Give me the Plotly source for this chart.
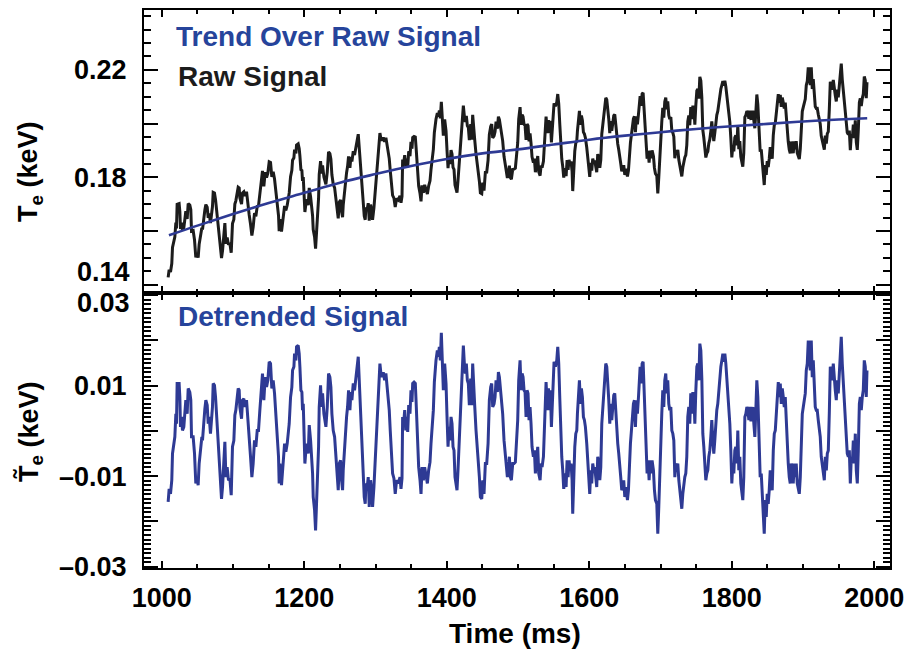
import numpy as np
import plotly.graph_objects as go

# ---------------- data ----------------
# sampling times of the fluctuating signal (ms)
time_ms = [
    1008.9, 1010.3, 1012.2, 1014.0, 1015.0, 1016.9, 1018.3, 1019.7, 1020.6, 1021.5,
    1024.3, 1025.3, 1026.2, 1027.6, 1029.0, 1030.9, 1032.3, 1033.7, 1035.6, 1037.0,
    1039.3, 1040.7, 1041.7, 1044.0, 1045.9, 1047.7, 1049.6, 1051.0, 1052.4, 1054.3,
    1056.2, 1057.1, 1059.0, 1060.4, 1061.8, 1063.7, 1065.1, 1066.5, 1068.3, 1069.7,
    1071.1, 1072.1, 1073.9, 1075.4, 1076.8, 1078.6, 1080.5, 1082.4, 1083.8, 1085.2,
    1087.1, 1088.5, 1089.9, 1091.7, 1093.6, 1095.5, 1097.4, 1099.2, 1101.1, 1102.5,
    1103.9, 1105.8, 1107.2, 1108.6, 1109.5, 1111.9, 1113.3, 1115.1, 1117.0, 1118.9,
    1120.8, 1122.6, 1124.5, 1126.4, 1128.2, 1130.1, 1132.0, 1133.9, 1135.7, 1137.6,
    1139.5, 1141.3, 1143.2, 1145.1, 1147.0, 1148.8, 1150.7, 1152.6, 1154.4, 1156.3,
    1158.2, 1160.1, 1161.9, 1163.8, 1164.7,
    1165.7, 1168.0, 1170.4, 1172.3, 1174.1, 1176.0, 1178.8, 1180.7, 1182.5, 1183.5,
    1185.4, 1186.3, 1188.2, 1189.1, 1191.4, 1192.8, 1193.8, 1195.2, 1196.6, 1197.5,
    1198.5, 1199.4, 1200.8, 1202.2, 1204.1, 1205.5, 1206.9, 1208.8, 1210.2, 1211.6,
    1212.5, 1214.4, 1215.8, 1217.2, 1218.6, 1220.0, 1220.9, 1222.8, 1224.2, 1225.6,
    1227.5, 1228.9, 1230.3, 1232.2, 1234.0, 1235.9, 1237.3, 1238.7, 1240.6, 1242.5,
    1244.3, 1246.2, 1247.6, 1249.0, 1250.9, 1252.3, 1253.7, 1254.6, 1256.0, 1257.4,
    1259.3, 1260.7, 1262.1, 1264.0, 1265.4, 1266.8, 1268.7, 1270.5, 1272.4, 1274.3,
    1275.7, 1277.1, 1278.0, 1279.4, 1280.8, 1281.8, 1282.7, 1284.1, 1285.5, 1286.4,
    1288.3, 1289.7, 1291.1, 1293.0, 1294.4, 1295.8, 1297.7, 1299.5, 1301.4, 1303.3,
    1304.7, 1306.1, 1307.5, 1308.9, 1310.8, 1312.7, 1314.5, 1316.4, 1317.8, 1319.2,
    1320.6, 1322.0, 1323.9, 1325.8, 1327.6, 1329.5, 1331.8,
    1334.3, 1335.7, 1337.1, 1338.0, 1339.4, 1340.9, 1342.3, 1343.7, 1345.1, 1346.5,
    1348.3, 1349.7, 1351.1, 1352.1, 1354.0, 1355.8, 1356.8, 1357.7, 1359.1, 1360.5,
    1362.4, 1363.8, 1365.2, 1367.1, 1368.9, 1370.8, 1372.7, 1374.5, 1376.4, 1377.8,
    1379.2, 1381.1, 1382.5, 1383.9, 1384.8, 1386.7, 1388.1, 1389.5, 1390.9, 1392.3,
    1393.3, 1394.2, 1395.1, 1397.0, 1398.9, 1400.3, 1401.7, 1403.1, 1404.5, 1405.9,
    1407.3, 1408.7, 1410.1, 1411.5, 1412.9, 1414.3, 1415.7, 1417.1, 1418.5, 1419.9,
    1421.3, 1423.2, 1424.6, 1426.0, 1427.4, 1428.8, 1430.2, 1431.6, 1433.5, 1434.9,
    1436.3, 1437.7, 1439.1, 1441.0, 1442.9, 1444.3, 1445.7, 1447.1, 1449.0, 1450.4,
    1452.2, 1454.1, 1456.0, 1457.9, 1458.8, 1459.7, 1461.6, 1463.0, 1464.4, 1466.3,
    1467.7, 1469.1, 1471.0, 1472.4, 1473.8, 1475.2, 1476.6, 1478.4, 1480.3, 1482.2,
    1483.6, 1485.0, 1486.4, 1487.8, 1489.2, 1490.6, 1492.5, 1494.4, 1496.2, 1498.1,
    1499.5, 1500.9, 1502.8,
    1504.2, 1505.6, 1507.0, 1508.4, 1509.8, 1511.2, 1512.6, 1514.0, 1515.4, 1516.8,
    1518.2, 1519.6, 1521.5, 1522.9, 1524.3, 1526.2, 1527.6, 1529.0, 1530.9, 1532.3,
    1533.7, 1535.6, 1537.0, 1538.4, 1539.3, 1541.2, 1542.6, 1544.0, 1545.4, 1546.8,
    1547.7, 1549.1, 1550.5, 1552.4, 1554.3, 1555.7, 1557.1, 1558.5, 1559.9, 1561.3,
    1562.7, 1564.1, 1566.0, 1567.4, 1568.8, 1570.2, 1571.6, 1573.0, 1574.4, 1575.8,
    1576.7, 1578.1, 1579.6, 1581.0, 1582.4, 1583.3, 1584.7, 1586.1, 1587.5, 1588.9,
    1590.3, 1591.7, 1593.1, 1594.5, 1596.4, 1597.8, 1599.2, 1600.6, 1602.0, 1603.4,
    1604.8, 1606.2, 1607.6, 1609.0, 1610.4, 1611.8, 1613.2, 1614.7, 1616.1, 1617.5,
    1618.9, 1620.3, 1621.7, 1623.1, 1624.5, 1625.9, 1627.3, 1628.7, 1630.1, 1631.5,
    1632.9, 1634.3, 1635.7, 1637.1, 1638.5, 1639.9, 1641.3, 1642.7, 1644.1, 1645.5,
    1646.9, 1648.3, 1649.8, 1651.6, 1653.5, 1654.9, 1656.3, 1657.7, 1659.1, 1660.5,
    1661.9, 1663.3, 1664.7, 1666.1, 1667.5, 1669.0, 1670.3,
    1671.3, 1672.7, 1674.1, 1675.5, 1676.9, 1678.3, 1679.7, 1681.1, 1682.5, 1683.9,
    1685.3, 1686.7, 1688.1, 1690.0, 1691.4, 1692.8, 1694.7, 1696.1, 1697.5, 1698.9,
    1700.3, 1701.7, 1703.1, 1704.5, 1705.9, 1707.3, 1708.7, 1710.1, 1711.5, 1712.9,
    1714.4, 1715.8, 1717.2, 1718.6, 1720.0, 1721.4, 1722.8, 1724.2, 1725.6, 1727.0,
    1728.4, 1729.8, 1731.2, 1732.6, 1734.0, 1735.4, 1736.8, 1738.2, 1739.6, 1741.0,
    1742.4, 1743.8, 1745.2, 1746.7, 1748.1, 1749.5, 1750.9, 1752.3, 1753.7, 1755.1,
    1756.5, 1757.9, 1759.3, 1760.7, 1762.1, 1763.5, 1764.9, 1766.3, 1767.7, 1769.1,
    1770.5, 1771.9, 1773.3, 1774.7, 1776.1, 1777.5, 1778.9, 1780.3, 1781.7, 1783.2,
    1784.6, 1786.0, 1787.4, 1788.8, 1790.2, 1791.6, 1793.0, 1794.4, 1795.8, 1797.2,
    1798.6, 1800.0, 1801.4, 1802.8, 1804.2, 1805.6, 1807.0, 1808.4, 1809.8, 1811.2,
    1812.6, 1814.0, 1815.4, 1816.8, 1818.3, 1819.7, 1821.1, 1822.5, 1823.9, 1825.3,
    1826.7, 1828.1, 1829.5, 1830.9, 1832.3, 1833.7, 1835.1, 1836.5, 1837.9, 1839.8,
    1841.3, 1842.7, 1844.1, 1845.5, 1846.9, 1848.3, 1849.7, 1851.1, 1852.5, 1853.9,
    1855.3, 1856.7, 1858.2, 1859.6, 1861.0, 1862.4, 1863.8, 1865.2, 1866.6, 1868.0,
    1869.4, 1870.8, 1872.2, 1873.6, 1875.0, 1876.4, 1877.8, 1879.2, 1880.6, 1882.0,
    1883.4, 1884.8, 1886.2, 1887.6, 1889.0, 1890.4, 1891.8, 1893.3, 1894.7, 1896.1,
    1897.5, 1898.9, 1900.3, 1901.7, 1903.1, 1904.5, 1905.9, 1907.3, 1908.7, 1910.1,
    1911.5, 1912.9, 1914.3, 1915.7, 1917.1, 1918.5, 1919.9, 1921.3, 1922.7, 1924.1,
    1925.5, 1926.9, 1928.4, 1929.8, 1931.2, 1932.6, 1934.0, 1935.4, 1936.8, 1938.2,
    1939.6, 1941.0, 1942.4, 1943.8, 1945.2, 1946.6, 1948.0, 1949.4, 1950.8, 1952.2,
    1953.6, 1955.0, 1956.4, 1957.8, 1959.2, 1960.6, 1962.0, 1963.5, 1964.9, 1966.3,
    1967.7, 1969.1, 1970.5, 1971.9, 1973.3, 1974.7, 1976.1, 1977.5, 1979.0, 1980.3,
    1981.7, 1983.1, 1984.5, 1985.9, 1987.3, 1988.7, 1989.7,
]

# detrended electron temperature fluctuation (keV)
te_detrended = [
    -0.0157, -0.0128, -0.0139, -0.0109, -0.0050, -0.0021, -0.0013, 0.0038, 0.0016, 0.0105,
    0.0105, 0.0075, 0.0009, 0.0031, 0.0001, 0.0009, 0.0053, 0.0068, 0.0038, 0.0094,
    0.0086, 0.0068, -0.0013, -0.0013, -0.0050, -0.0116, -0.0102, -0.0120, -0.0072, -0.0043,
    -0.0013, -0.0021, 0.0038, 0.0049, 0.0068, 0.0057, 0.0016, 0.0031, -0.0006, 0.0016,
    0.0053, 0.0105, 0.0101, 0.0075, 0.0035, -0.0013, -0.0057, -0.0113, -0.0150, -0.0124,
    -0.0072, -0.0024, -0.0102, -0.0080, -0.0109, -0.0105, -0.0142, -0.0035, -0.0021, 0.0035,
    0.0046, 0.0079, 0.0094, 0.0090, 0.0053, 0.0027, 0.0068, 0.0071, 0.0053, 0.0068,
    0.0016, -0.0021, -0.0057, -0.0102, -0.0072, -0.0021, -0.0035, 0.0001, 0.0001, 0.0046,
    0.0083, 0.0127, 0.0068, 0.0119, 0.0097, 0.0112, 0.0153, 0.0149, 0.0094, 0.0112,
    0.0083, 0.0031, -0.0028, -0.0057, -0.0116,
    -0.0072, -0.0120, -0.0057, -0.0028, -0.0046, -0.0028, 0.0016, 0.0075, 0.0097, 0.0134,
    0.0142, 0.0171, 0.0156, 0.0186, 0.0189, 0.0171, 0.0142, 0.0090, 0.0086, 0.0046,
    0.0060, 0.0001, -0.0072, -0.0043, -0.0028, -0.0050, 0.0013, -0.0021, -0.0050, -0.0094,
    -0.0146, -0.0175, -0.0220, -0.0161, -0.0124, -0.0035, 0.0053, 0.0101, 0.0053, 0.0083,
    0.0038, 0.0024, 0.0009, 0.0053, 0.0127, 0.0119, 0.0097, 0.0038, 0.0001, -0.0013,
    -0.0057, -0.0087, -0.0131, -0.0072, -0.0065, -0.0109, -0.0131, -0.0087, -0.0043, -0.0006,
    0.0031, 0.0053, 0.0090, 0.0046, 0.0086, 0.0068, 0.0105, 0.0090, 0.0119, 0.0134,
    0.0164, 0.0112, 0.0075, 0.0031, -0.0006, -0.0057, -0.0102, -0.0146, -0.0161, -0.0116,
    -0.0124, -0.0102, -0.0168, -0.0109, -0.0131, -0.0168, -0.0124, -0.0072, -0.0006, 0.0038,
    0.0097, 0.0149, 0.0127, 0.0119, 0.0130, 0.0112, 0.0127, 0.0094, 0.0083, 0.0046,
    0.0001, -0.0057, -0.0094, -0.0105, -0.0139, -0.0109, -0.0116,
    -0.0102, -0.0128, -0.0105, 0.0031, 0.0016, 0.0046, 0.0001, 0.0031, -0.0002, 0.0057,
    0.0038, 0.0090, 0.0064, 0.0105, 0.0108, 0.0105, 0.0068, 0.0031, -0.0028, -0.0080,
    -0.0109, -0.0139, -0.0080, -0.0109, -0.0080, -0.0102, -0.0116, -0.0087, -0.0069, -0.0028,
    0.0001, 0.0046, 0.0108, 0.0142, 0.0156, 0.0178, 0.0164, 0.0186, 0.0156, 0.0217,
    0.0156, 0.0142, 0.0090, 0.0149, 0.0105, 0.0031, -0.0035, 0.0009, -0.0021, 0.0031,
    0.0016, -0.0035, -0.0043, -0.0102, -0.0116, -0.0131, -0.0087, -0.0035, 0.0024, 0.0075,
    0.0094, 0.0189, 0.0149, 0.0127, 0.0149, 0.0112, 0.0105, 0.0057, 0.0116, 0.0057,
    0.0149, 0.0083, 0.0057, 0.0001, -0.0035, -0.0080, -0.0102, -0.0146, -0.0150, -0.0109,
    -0.0139, -0.0072, -0.0072, -0.0028, 0.0031, 0.0068, 0.0097, 0.0105, 0.0053, 0.0060,
    0.0075, 0.0112, 0.0086, 0.0130, 0.0119, 0.0097, 0.0068, 0.0038, -0.0021, -0.0057,
    -0.0072, -0.0102, -0.0087, -0.0057, -0.0102, -0.0109, -0.0072, -0.0072, -0.0069, -0.0021,
    0.0024, 0.0112, 0.0156,
    0.0090, 0.0127, 0.0119, 0.0090, 0.0086, 0.0031, 0.0090, 0.0083, 0.0024, 0.0053,
    0.0016, -0.0035, -0.0057, -0.0043, -0.0094, -0.0065, -0.0035, -0.0094, -0.0109, -0.0072,
    -0.0080, -0.0057, 0.0001, 0.0053, 0.0108, 0.0046, 0.0094, 0.0046, 0.0090, 0.0009,
    0.0053, 0.0094, 0.0153, 0.0142, 0.0156, 0.0186, 0.0149, 0.0075, -0.0028, -0.0057,
    -0.0087, -0.0128, -0.0094, -0.0124, -0.0065, -0.0102, -0.0065, -0.0087, -0.0072, -0.0109,
    -0.0183, -0.0087, -0.0035, -0.0006, 0.0001, 0.0038, 0.0075, 0.0112, 0.0060, 0.0094,
    0.0075, 0.0031, 0.0024, 0.0009, -0.0028, -0.0072, -0.0116, -0.0139, -0.0087, -0.0116,
    -0.0072, -0.0087, -0.0080, -0.0102, -0.0124, -0.0057, -0.0072, -0.0109, -0.0080, 0.0016,
    0.0046, 0.0075, 0.0119, 0.0149, 0.0142, 0.0112, 0.0068, 0.0016, 0.0060, 0.0024,
    0.0060, 0.0079, 0.0083, 0.0038, -0.0013, -0.0028, -0.0050, -0.0087, -0.0102, -0.0131,
    -0.0124, -0.0109, -0.0146, -0.0124, -0.0153, -0.0131, -0.0072, -0.0028, 0.0001, 0.0038,
    0.0060, 0.0068, 0.0009, 0.0068, 0.0038, 0.0075, 0.0127,
    0.0142, 0.0105, 0.0149, 0.0153, 0.0083, 0.0009, -0.0057, -0.0094, -0.0065, -0.0109,
    -0.0065, -0.0094, -0.0065, -0.0087, -0.0131, -0.0153, -0.0161, -0.0227, -0.0168, -0.0087,
    -0.0013, 0.0038, 0.0090, 0.0053, 0.0112, 0.0127, 0.0083, 0.0112, 0.0060, 0.0046,
    0.0053, 0.0001, -0.0006, -0.0021, -0.0102, -0.0072, -0.0087, -0.0072, -0.0109, -0.0131,
    -0.0153, -0.0172, -0.0139, -0.0116, -0.0102, -0.0094, -0.0057, 0.0031, 0.0053, 0.0016,
    0.0083, 0.0038, 0.0083, 0.0083, 0.0016, 0.0090, 0.0142, 0.0149, 0.0112, 0.0193,
    0.0178, 0.0116, -0.0006, -0.0035, -0.0080, -0.0109, -0.0094, -0.0087, -0.0057, -0.0043,
    -0.0013, 0.0024, -0.0021, -0.0050, -0.0021, 0.0016, 0.0046, 0.0060, 0.0090, 0.0112,
    0.0142, 0.0156, 0.0171, 0.0153, 0.0171, 0.0149, 0.0119, 0.0083, 0.0068, 0.0016,
    -0.0043, -0.0116, -0.0072, -0.0094, -0.0043, -0.0035, -0.0072, 0.0001, -0.0087, -0.0057,
    -0.0116, -0.0131, -0.0153, -0.0102, 0.0031, 0.0038, 0.0053, 0.0046, 0.0024, 0.0053,
    0.0024, 0.0024, 0.0053, 0.0016, -0.0013, 0.0046, 0.0112, 0.0075, -0.0021, -0.0102,
    -0.0094, -0.0139, -0.0205, -0.0227, -0.0153, -0.0190, -0.0139, -0.0161, -0.0131, -0.0087,
    -0.0116, -0.0131, -0.0043, -0.0006, 0.0001, 0.0046, 0.0075, 0.0108, 0.0075, 0.0105,
    0.0060, 0.0094, 0.0075, 0.0053, 0.0075, 0.0016, -0.0021, -0.0072, -0.0102, -0.0116,
    -0.0072, -0.0087, -0.0116, -0.0072, -0.0102, -0.0072, -0.0116, -0.0131, -0.0139, -0.0102,
    -0.0035, 0.0038, 0.0053, 0.0075, 0.0083, 0.0134, 0.0149, 0.0200, 0.0164, 0.0134,
    0.0200, 0.0119, 0.0156, 0.0090, 0.0053, 0.0046, 0.0046, 0.0024, 0.0001, -0.0013,
    -0.0057, -0.0072, -0.0087, -0.0109, -0.0057, -0.0087, -0.0050, -0.0043, 0.0038, 0.0142,
    0.0134, 0.0112, 0.0149, 0.0105, 0.0090, 0.0068, 0.0112, 0.0083, 0.0134, 0.0164,
    0.0208, 0.0149, 0.0112, 0.0075, 0.0038, -0.0021, -0.0050, -0.0057, -0.0043, -0.0116,
    -0.0057, -0.0072, -0.0021, -0.0072, -0.0006, -0.0087, -0.0116, -0.0043, 0.0060, 0.0075,
    0.0046, 0.0075, 0.0090, 0.0156, 0.0142, 0.0075, 0.0134,
]

# slow trend fitted over the raw signal (keV)
trend_time_ms = [1010, 1050, 1100, 1150, 1200, 1250, 1300, 1350, 1400, 1450, 1500,
                 1550, 1600, 1650, 1700, 1750, 1800, 1850, 1900, 1950, 1990]
trend_te = [0.1584, 0.1620, 0.1663, 0.1704, 0.1742, 0.1780, 0.1812, 0.1842, 0.1868,
            0.1889, 0.1904, 0.1922, 0.1940, 0.1955, 0.1968, 0.1980, 0.1990, 0.1999,
            0.2008, 0.2015, 0.2020]

x_tick_vals = [1000, 1200, 1400, 1600, 1800, 2000]
top_tick_vals = [0.14, 0.16, 0.18, 0.20, 0.22]
top_tick_text = [" ", " ", "0.18", " ", "0.22"]
bot_tick_vals = [-0.03, -0.02, -0.01, 0.0, 0.01, 0.02, 0.03]
bot_tick_text = ["\u20130.03", " ", "\u20130.01", " ", "0.01", " ", " "]

# raw signal = trend + fluctuation
n = min(len(time_ms), len(te_detrended))
t_arr = np.array(time_ms[:n])
d_arr = np.array(te_detrended[:n])
raw_te = np.interp(t_arr, trend_time_ms, trend_te) + d_arr

# ---------------- figure ----------------
BLUE_LINE = "#2e3a94"
BLUE_TEXT = "#26449b"
FONT = "Liberation Sans, Arial, Helvetica, sans-serif"

fig = go.Figure()
fig.add_trace(go.Scatter(x=t_arr, y=raw_te, mode="lines",
                         line=dict(color="#1c1c1c", width=3),
                         xaxis="x", yaxis="y", showlegend=False))
fig.add_trace(go.Scatter(x=trend_time_ms, y=trend_te, mode="lines",
                         line=dict(color=BLUE_LINE, width=2.6, shape="spline"),
                         xaxis="x", yaxis="y", showlegend=False))
fig.add_trace(go.Scatter(x=t_arr, y=d_arr, mode="lines",
                         line=dict(color=BLUE_LINE, width=3),
                         xaxis="x2", yaxis="y2", showlegend=False))

split = 275 / 558.0
tick_font = dict(family=FONT, size=27, color="black", weight="bold")
common_x = dict(range=[975, 2022], showline=True, linewidth=2, linecolor="black",
                mirror="ticks", ticks="inside", ticklen=7, tickwidth=2,
                tickcolor="black", tickvals=x_tick_vals, showgrid=False, zeroline=False,
                automargin=False,
                minor=dict(tickmode="linear", tick0=1000, dtick=50, ticks="inside",
                           ticklen=4, tickwidth=2, tickcolor="black", showgrid=False))
common_y = dict(showline=True, linewidth=2, linecolor="black", mirror="ticks",
                ticks="inside", ticklen=14, tickwidth=2, tickcolor="black",
                tickfont=tick_font, ticklabelstandoff=10, showgrid=False,
                zeroline=False, automargin=False)

fig.update_layout(
    width=904, height=655,
    margin=dict(l=144, r=14, t=10, b=87),
    paper_bgcolor="white", plot_bgcolor="white",
    font=dict(family=FONT, color="black", weight="bold"),
    xaxis=dict(common_x, anchor="y", showticklabels=False),
    xaxis2=dict(common_x, anchor="y2", matches="x", showticklabels=True,
                tickfont=tick_font, ticklabelstandoff=5, ticklabeloverflow="allow"),
    yaxis=dict(common_y, domain=[split, 1], range=[0.1369, 0.2423], anchor="x",
               tickvals=top_tick_vals, ticktext=top_tick_text,
               minor=dict(tickmode="linear", tick0=0, dtick=0.005, ticks="inside",
                          ticklen=7, tickwidth=2, tickcolor="black", showgrid=False)),
    yaxis2=dict(common_y, domain=[0, split], range=[-0.0303, 0.0305], anchor="x2",
                tickvals=bot_tick_vals, ticktext=bot_tick_text,
                minor=dict(tickmode="linear", tick0=0, dtick=0.001, ticks="inside",
                           ticklen=7, tickwidth=1.5, tickcolor="black", showgrid=False)),
)

def px_x(px):
    return (px - 144) / 746.0

def px_y(py):
    return (568 - py) / 558.0

ann = []
# shifted tick labels that would collide at the panel boundary
ann.append(dict(x=px_x(132), y=px_y(272), xref="paper", yref="paper", text="0.14",
                showarrow=False, xanchor="right", yanchor="middle", font=tick_font))
ann.append(dict(x=px_x(132), y=px_y(303), xref="paper", yref="paper", text="0.03",
                showarrow=False, xanchor="right", yanchor="middle", font=tick_font))
# panel labels
lab = dict(family=FONT, size=28, weight="bold")
ann.append(dict(x=px_x(174), y=px_y(37), xref="paper", yref="paper",
                text="Trend Over Raw Signal", showarrow=False, xanchor="left",
                yanchor="middle", font=dict(lab, color=BLUE_TEXT)))
ann.append(dict(x=px_x(176), y=px_y(76), xref="paper", yref="paper",
                text="Raw Signal", showarrow=False, xanchor="left",
                yanchor="middle", font=dict(lab, color="#1c1c1c")))
ann.append(dict(x=px_x(176), y=px_y(316), xref="paper", yref="paper",
                text="Detrended Signal", showarrow=False, xanchor="left",
                yanchor="middle", font=dict(lab, color=BLUE_TEXT)))
# axis titles
ann.append(dict(x=px_x(515), y=px_y(634), xref="paper", yref="paper",
                text="Time (ms)", showarrow=False, xanchor="center", yanchor="middle",
                font=dict(lab, color="black")))
ann.append(dict(x=px_x(30), y=px_y(172), xref="paper", yref="paper",
                text="T<sub>e</sub> (keV)", showarrow=False, textangle=-90,
                xanchor="center", yanchor="middle",
                font=dict(family=FONT, size=27, color="black", weight="bold")))
ann.append(dict(x=px_x(30), y=px_y(432), xref="paper", yref="paper",
                text="T\u0303<sub>e</sub> (keV)", showarrow=False, textangle=-90,
                xanchor="center", yanchor="middle",
                font=dict(family=FONT, size=27, color="black", weight="bold")))
fig.update_layout(annotations=ann)

fig.write_html("out.html")
